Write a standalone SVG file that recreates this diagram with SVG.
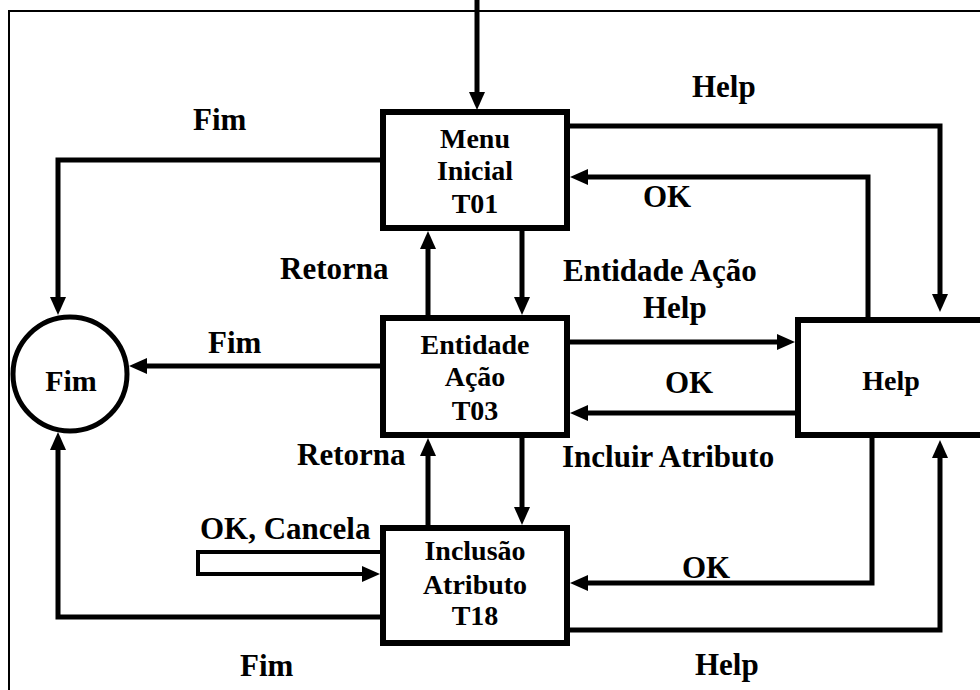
<svg xmlns="http://www.w3.org/2000/svg" width="980" height="690" viewBox="0 0 980 690">
<style>
text{font-family:"Liberation Serif","Times New Roman",serif;font-weight:bold;fill:#000}
.lbl{font-size:31px}
.nt{font-size:28px;text-anchor:middle}
.box{fill:#fff;stroke:#000;stroke-width:6}
.c{fill:none;stroke:#000;stroke-width:5;marker-end:url(#ah)}
.frame{fill:none;stroke:#000;stroke-width:2}
</style>
<defs>
<marker id="ah" viewBox="0 0 18 16" refX="0" refY="8" markerWidth="18" markerHeight="16" markerUnits="userSpaceOnUse" orient="auto">
<path d="M0,0 L18,8 L0,16 z" fill="#000"/>
</marker>
</defs>
<rect width="980" height="690" fill="#fff"/>
<path class="frame" d="M9,690 V11 H980"/>
<g id="connectors">
<path class="c" d="M477,0 V92"/>
<path class="c" d="M383,160 H58 V297"/>
<path class="c" d="M383,366 H147"/>
<path class="c" d="M383,617 H58 V450"/>
<path class="c" d="M428,318 V249"/>
<path class="c" d="M428,528 V456"/>
<path class="c" d="M522,228 V297"/>
<path class="c" d="M522,435 V507"/>
<path class="c" d="M567,126 H940 V294"/>
<path class="c" d="M868,320 V177 H588"/>
<path class="c" d="M567,342 H777"/>
<path class="c" d="M798,413 H588"/>
<path class="c" d="M872,435 V583 H588"/>
<path class="c" d="M567,630 H940 V458"/>
<path class="c" style="stroke-width:4" d="M383,552 H198 V574 H362"/>
</g>
<g id="labels">
<text class="lbl" x="692" y="97">Help</text>
<text class="lbl" x="193" y="130">Fim</text>
<text class="lbl" x="643" y="207">OK</text>
<text class="lbl" x="280" y="279">Retorna</text>
<text class="lbl" x="563" y="281">Entidade Ação</text>
<text class="lbl" x="643" y="318">Help</text>
<text class="lbl" x="208" y="353">Fim</text>
<text class="lbl" x="665" y="393">OK</text>
<text class="lbl" x="297" y="465">Retorna</text>
<text class="lbl" x="562" y="467">Incluir Atributo</text>
<text class="lbl" x="200" y="539">OK, Cancela</text>
<text class="lbl" x="682" y="578">OK</text>
<text class="lbl" x="240" y="676">Fim</text>
<text class="lbl" x="695" y="675">Help</text>
</g>
<g id="fim">
<circle cx="70" cy="374" r="57" fill="#fff" stroke="#000" stroke-width="5"/>
<text class="nt" x="71" y="391" style="font-size:30px">Fim</text>
</g>
<g id="t01">
<rect class="box" x="383" y="112" width="184" height="116"/>
<text class="nt" x="475" y="148">Menu</text>
<text class="nt" x="475" y="180">Inicial</text>
<text class="nt" x="475" y="213">T01</text>
</g>
<g id="t03">
<rect class="box" x="383" y="318" width="184" height="117"/>
<text class="nt" x="475" y="354">Entidade</text>
<text class="nt" x="475" y="386">Ação</text>
<text class="nt" x="475" y="420">T03</text>
</g>
<g id="t18">
<rect class="box" x="383" y="528" width="184" height="115"/>
<text class="nt" x="475" y="560">Inclusão</text>
<text class="nt" x="475" y="594">Atributo</text>
<text class="nt" x="475" y="625">T18</text>
</g>
<g id="help">
<rect class="box" x="798" y="320" width="195" height="115"/>
<text class="nt" x="891" y="390">Help</text>
</g>
</svg>
